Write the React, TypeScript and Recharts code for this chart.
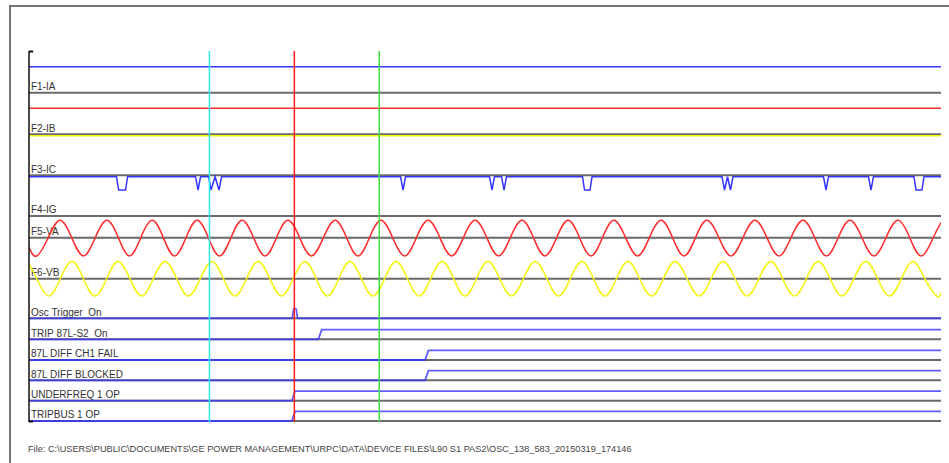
import React from 'react';
import { LineChart, Line, XAxis, YAxis, ReferenceLine } from 'recharts';

// ---------- time axis (ms, trigger = 0) ----------
const T_MIN = -95;
const T_MAX = 231.5;
const cursorTimes = [-30.4, 0, 30.4];

// ---------- channel labels ----------
const analogLabels = ['F1-IA', 'F2-IB', 'F3-IC', 'F4-IG', 'F5-VA', 'F6-VB'];
const digitalLabels = [
  'Osc Trigger  On',
  'TRIP 87L-S2  On',
  '87L DIFF CH1 FAIL',
  '87L DIFF BLOCKED',
  'UNDERFREQ 1 OP',
  'TRIPBUS 1 OP',
];
const footerText =
  'File: C:\\USERS\\PUBLIC\\DOCUMENTS\\GE POWER MANAGEMENT\\URPC\\DATA\\DEVICE FILES\\L90 S1 PAS2\\OSC_138_583_20150319_174146';

// ---------- flat analog traces (per-unit) ----------
const traceATimes = [-95, 231.5];
const traceAValues = [1.47, 1.47];
const traceBTimes = [-95, 231.5];
const traceBValues = [1.47, 1.47];
const traceCTimes = [-95, 231.5];
const traceCValues = [-0.08, -0.08];

// ---------- F3-IC (blue, with dips) ----------
const icTimes = [
  -95,
  -63.65, -62.93, -60.42, -59.71,
  -35.37, -34.47, -33.58,
  -30.71, -29.82, -28.39, -26.96, -26.06,
  38.02, 38.91, 39.81,
  69.87, 70.77, 71.66, 74.17, 75.06, 75.96,
  103.17, 103.88, 105.85, 106.57,
  153.1, 154.0, 155.07, 156.14, 157.04,
  189.43, 190.33, 191.22,
  205.54, 206.44, 207.33,
  221.83, 222.55, 224.69, 225.41,
  231.5,
];
const icValues = [
  -0.08,
  -0.08, -0.83, -0.83, -0.08,
  -0.08, -0.83, -0.08,
  -0.08, -0.83, -0.08, -0.83, -0.08,
  -0.08, -0.83, -0.08,
  -0.08, -0.83, -0.08, -0.08, -0.83, -0.08,
  -0.08, -0.83, -0.83, -0.08,
  -0.08, -0.83, -0.08, -0.83, -0.08,
  -0.08, -0.83, -0.08,
  -0.08, -0.83, -0.08,
  -0.08, -0.83, -0.83, -0.08,
  -0.08,
];

// ---------- F5-VA (red sine) ----------
const vaTimes = [
  -95, -92.3, -88.1, -83.9,
  -79.7, -75.5, -71.3, -67.1,
  -63.0, -59.0, -55.0, -50.9,
  -46.9, -42.9, -38.8, -34.8,
  -30.8, -26.8, -22.7, -18.7,
  -14.6, -10.5, -6.4, -2.3,
  1.9, 6.1, 10.4, 14.6,
  18.7, 22.8, 26.9, 31.0,
  35.2, 39.5, 43.7, 47.9,
  52.1, 56.3, 60.5, 64.7,
  68.9, 73.1, 77.3, 81.5,
  85.6, 89.7, 93.9, 98.0,
  102.1, 106.2, 110.3, 114.4,
  118.6, 122.9, 127.1, 131.3,
  135.4, 139.5, 143.6, 147.7,
  152.0, 156.3, 160.6, 164.9,
  169.2, 173.5, 177.8, 182.1,
  186.3, 190.5, 194.7, 198.9,
  203.2, 207.5, 211.8, 216.1,
  220.3, 224.5, 228.7, 231.5,
];
const vaValues = [
  -0.53, -1.05, 0, 1,
  0, -1.05, 0, 1,
  0, -1.05, 0, 1,
  0, -1.05, 0, 1,
  0, -1.05, 0, 1,
  0, -1.05, 0, 1,
  0, -1.05, 0, 1,
  0, -1.05, 0, 1,
  0, -1.05, 0, 1,
  0, -1.05, 0, 1,
  0, -1.05, 0, 1,
  0, -1.05, 0, 1,
  0, -1.05, 0, 1,
  0, -1.05, 0, 1,
  0, -1.05, 0, 1,
  0, -1.05, 0, 1,
  0, -1.05, 0, 1,
  0, -1.05, 0, 1,
  0, -1.05, 0, 1,
  0, -1.05, 0, 0.87,
];

// ---------- F6-VB (yellow sine) ----------
const vbTimes = [
  -95, -92.2, -88.0, -83.8,
  -79.6, -75.5, -71.4, -67.2,
  -63.1, -58.9, -54.7, -50.5,
  -46.3, -42.1, -37.9, -33.7,
  -29.5, -25.4, -21.3, -17.1,
  -13.0, -8.8, -4.6, -0.4,
  3.8, 7.8, 11.9, 15.9,
  19.9, 24.0, 28.2, 32.3,
  36.4, 40.5, 44.7, 48.8,
  52.9, 57.0, 61.1, 65.2,
  69.3, 73.5, 77.8, 82.0,
  86.2, 90.4, 94.6, 98.8,
  103.0, 107.1, 111.2, 115.3,
  119.4, 123.6, 127.9, 132.1,
  136.3, 140.6, 144.9, 149.2,
  153.5, 157.8, 162.1, 166.3,
  170.6, 174.8, 179.1, 183.3,
  187.5, 191.8, 196.1, 200.3,
  204.6, 208.8, 213.1, 217.3,
  221.5, 225.7, 229.9, 231.5,
];
const vbValues = [
  0.87, 0, -1, 0,
  1, 0, -1, 0,
  1, 0, -1, 0,
  1, 0, -1, 0,
  1, 0, -1, 0,
  1, 0, -1, 0,
  1, 0, -1, 0,
  1, 0, -1, 0,
  1, 0, -1, 0,
  1, 0, -1, 0,
  1, 0, -1, 0,
  1, 0, -1, 0,
  1, 0, -1, 0,
  1, 0, -1, 0,
  1, 0, -1, 0,
  1, 0, -1, 0,
  1, 0, -1, 0,
  1, 0, -1, 0,
  1, 0, -1, 0,
  1, 0, -1, -0.83,
];

// ---------- digital channels (0/1) ----------
const oscTimes = [-95, -0.8, -0.2, 0.6, 1.2, 231.5];
const oscValues = [0, 0, 1, 1, 0, 0];
const trip87Times = [-95, 8.6, 9.8, 231.5];
const trip87Values = [0, 0, 1, 1];
const ch1FailTimes = [-95, 46.8, 48.0, 231.5];
const ch1FailValues = [0, 0, 1, 1];
const blockedTimes = [-95, 46.8, 48.0, 231.5];
const blockedValues = [0, 0, 1, 1];
const underfreqTimes = [-95, -0.9, 0.25, 231.5];
const underfreqValues = [0, 0, 1, 1];
const tripbusTimes = [-95, -0.9, 0.25, 231.5];
const tripbusValues = [0, 0, 1, 1];

// ---------- layout (chart units: 1 unit = 1 px, 0 at plot bottom) ----------
const Y_MAX = 371;
const ANALOG_ROWS = [329.3, 287.7, 246.7, 206, 184.3, 143.3];
const DIGITAL_ROWS = [103.7, 82.7, 62, 41.7, 21.3, 1];
const FLAT_GAIN = 17.7;
const VA_GAIN = 17.4;
const VB_GAIN = 17.2;
const DIG_GAIN = 9.6;

const BLUE = '#3535ff';
const RED = '#ff2b2b';
const YELLOW = '#f4f40c';
const GRID = '#6a6a6a';
const CURSOR_COLORS = ['#30e8f2', '#ff1a1a', '#3fdd3f'];
const FONT = "'Liberation Sans', Arial, sans-serif";

function build(times: number[], values: number[], base: number, gain: number) {
  return times.map((t, i) => ({ t, v: base + values[i] * gain }));
}

const RowLabel = (props: any) => {
  const { viewBox, text } = props;
  if (!viewBox) return null;
  return (
    <text
      x={viewBox.x + 2}
      y={viewBox.y - 2.6}
      fontSize={10}
      fontFamily={FONT}
      fill="#333"
      style={{ whiteSpace: 'pre' }}
      xmlSpace="preserve"
    >
      {text}
    </text>
  );
};

export default function App() {
  const allRows = [...ANALOG_ROWS, ...DIGITAL_ROWS];
  const allLabels = [...analogLabels, ...digitalLabels];

  const digital = [
    { d: build(oscTimes, oscValues, DIGITAL_ROWS[0], DIG_GAIN), type: 'monotone' },
    { d: build(trip87Times, trip87Values, DIGITAL_ROWS[1], DIG_GAIN), type: 'linear' },
    { d: build(ch1FailTimes, ch1FailValues, DIGITAL_ROWS[2], DIG_GAIN), type: 'linear' },
    { d: build(blockedTimes, blockedValues, DIGITAL_ROWS[3], DIG_GAIN), type: 'linear' },
    { d: build(underfreqTimes, underfreqValues, DIGITAL_ROWS[4], DIG_GAIN), type: 'linear' },
    { d: build(tripbusTimes, tripbusValues, DIGITAL_ROWS[5], DIG_GAIN), type: 'linear' },
  ];

  return (
    <div style={{ position: 'absolute', left: 0, top: 0, width: 949, height: 463, background: '#fff', overflow: 'hidden' }}>
      <div
        style={{
          position: 'absolute',
          left: 9,
          top: 5,
          width: 945,
          height: 470,
          borderLeft: '2px solid #777',
          borderTop: '2px solid #777',
        }}
      />
      <div style={{ position: 'absolute', left: 0, top: 0 }}>
        <LineChart width={949} height={463} margin={{ top: 51, right: 8, bottom: 41, left: 29 }}>
          <XAxis type="number" dataKey="t" domain={[T_MIN, T_MAX]} hide allowDataOverflow />
          <YAxis type="number" dataKey="v" domain={[0, Y_MAX]} hide allowDataOverflow />
          {allRows.map((y, i) => (
            <ReferenceLine
              key={'row' + i}
              y={y}
              stroke={GRID}
              strokeWidth={2}
              label={<RowLabel text={allLabels[i]} />}
            />
          ))}
          <Line data={build(traceATimes, traceAValues, ANALOG_ROWS[0], FLAT_GAIN)} dataKey="v" stroke={BLUE} strokeWidth={1.5} dot={false} activeDot={false} isAnimationActive={false} type="linear" />
          <Line data={build(traceBTimes, traceBValues, ANALOG_ROWS[1], FLAT_GAIN)} dataKey="v" stroke={RED} strokeWidth={1.5} dot={false} activeDot={false} isAnimationActive={false} type="linear" />
          <Line data={build(traceCTimes, traceCValues, ANALOG_ROWS[1], FLAT_GAIN)} dataKey="v" stroke={YELLOW} strokeWidth={1.5} dot={false} activeDot={false} isAnimationActive={false} type="linear" />
          <Line data={build(icTimes, icValues, ANALOG_ROWS[2], FLAT_GAIN)} dataKey="v" stroke={BLUE} strokeWidth={1.5} dot={false} activeDot={false} isAnimationActive={false} type="linear" />
          <Line data={build(vaTimes, vaValues, ANALOG_ROWS[4], VA_GAIN)} dataKey="v" stroke={RED} strokeWidth={1.5} dot={false} activeDot={false} isAnimationActive={false} type="natural" />
          <Line data={build(vbTimes, vbValues, ANALOG_ROWS[5], VB_GAIN)} dataKey="v" stroke={YELLOW} strokeWidth={1.5} dot={false} activeDot={false} isAnimationActive={false} type="natural" />
          {digital.map((s, i) => (
            <Line
              key={'dig' + i}
              data={s.d}
              dataKey="v"
              stroke={BLUE}
              strokeOpacity={0.8}
              strokeWidth={1.8}
              dot={false}
              activeDot={false}
              isAnimationActive={false}
              type={s.type as any}
            />
          ))}
          {cursorTimes.map((t, i) => (
            <ReferenceLine key={'cur' + i} x={t} stroke={CURSOR_COLORS[i]} strokeWidth={1.5} />
          ))}
          <ReferenceLine x={T_MIN} stroke="#111" strokeWidth={1.5} />
          <ReferenceLine segment={[{ x: T_MIN, y: Y_MAX - 0.5 }, { x: T_MIN + 1.5, y: Y_MAX - 0.5 }]} stroke="#111" strokeWidth={2} />
          <ReferenceLine segment={[{ x: T_MIN, y: 0.5 }, { x: T_MIN + 1.5, y: 0.5 }]} stroke="#111" strokeWidth={2} />
        </LineChart>
      </div>
      <div
        style={{
          position: 'absolute',
          left: 28,
          top: 444,
          fontSize: 9.2,
          lineHeight: '10px',
          fontFamily: FONT,
          color: '#444',
          whiteSpace: 'nowrap',
        }}
      >
        {footerText}
      </div>
    </div>
  );
}
